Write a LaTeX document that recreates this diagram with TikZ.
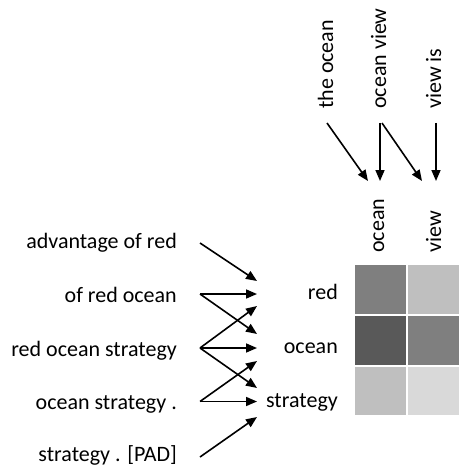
\documentclass[tikz,border=0pt]{standalone}
\usepackage{fontspec}
\setmainfont{Carlito}
\usetikzlibrary{arrows.meta}
\definecolor{cA}{HTML}{7F7F7F}
\definecolor{cB}{HTML}{BFBFBF}
\definecolor{cC}{HTML}{595959}
\definecolor{cD}{HTML}{D9D9D9}
\begin{document}
\begin{tikzpicture}[x=1pt,y=-1pt,
  lbl/.style={inner sep=0pt,font=\fontsize{22}{26}\selectfont},
  lleft/.style={lbl,anchor=base east},
  lrot/.style={lbl,rotate=90,anchor=base west},
  arr/.style={line width=1.6pt,-{Triangle[length=11pt,width=9pt]}},
  cell/.style={draw=white,line width=2pt}]
\useasboundingbox (0,0) rectangle (459,468);
% left labels
\node[lleft] (l1) at (177,248) {advantage of red};
\node[lleft] (l2) at (177,302) {of red ocean};
\node[lleft] (l3) at (177,356) {red ocean strategy};
\node[lleft] (l4) at (177,409) {ocean strategy .};
\node[lleft] (l5) at (177,461) {strategy . [PAD]};
% row labels
\node[lleft] (r1) at (338,299) {red};
\node[lleft] (r2) at (338,353) {ocean};
\node[lleft] (r3) at (338,407) {strategy};
% top labels
\node[lrot] (t1) at (333,109) {the ocean};
\node[lrot] (t2) at (386,109) {ocean view};
\node[lrot] (t3) at (441,109) {view is};
% column labels
\node[lrot] (c1) at (384,253) {ocean};
\node[lrot] (c2) at (441,253) {view};
% grid
\fill[cA,cell] (354,264) rectangle (407,315);
\fill[cB,cell] (407,264) rectangle (460,315);
\fill[cC,cell] (354,315) rectangle (407,366);
\fill[cA,cell] (407,315) rectangle (460,366);
\fill[cB,cell] (354,366) rectangle (407,416);
\fill[cD,cell] (407,366) rectangle (460,416);
\draw[white,line width=2pt] (354,264) rectangle (460,416);
\draw[white,line width=2pt] (407,264) -- (407,416) (354,315) -- (460,315) (354,366) -- (460,366);
% left sources and targets
\coordinate (sA) at (200,243);
\coordinate (sB) at (200,294);
\coordinate (sC) at (200,348);
\coordinate (sD) at (200,401.5);
\coordinate (sE) at (200,457);
\coordinate (tR1) at (257,281);
\coordinate (tR2) at (257,294);
\coordinate (tR3) at (257,306);
\coordinate (tO1) at (257,334);
\coordinate (tO2) at (257,348);
\coordinate (tO3) at (257,361);
\coordinate (tS1) at (257,388);
\coordinate (tS2) at (257,401.5);
\coordinate (tS3) at (257,417);
\draw[arr] (sA) -- (tR1);
\draw[arr] (sB) -- (tR2);
\draw[arr] (sB) -- (tO1);
\draw[arr] (sC) -- (tR3);
\draw[arr] (sC) -- (tO2);
\draw[arr] (sC) -- (tS1);
\draw[arr] (sD) -- (tO3);
\draw[arr] (sD) -- (tS2);
\draw[arr] (sE) -- (tS3);
% top sources and targets
\coordinate (u1) at (327,123);
\coordinate (u2) at (380,123);
\coordinate (u2b) at (382,123);
\coordinate (u3) at (436,123);
\coordinate (v1) at (368,181);
\coordinate (v2) at (380,181);
\coordinate (v3) at (422,181);
\coordinate (v4) at (436,181);
\draw[arr] (u1) -- (v1);
\draw[arr] (u2) -- (v2);
\draw[arr] (u2b) -- (v3);
\draw[arr] (u3) -- (v4);
\end{tikzpicture}
\end{document}
